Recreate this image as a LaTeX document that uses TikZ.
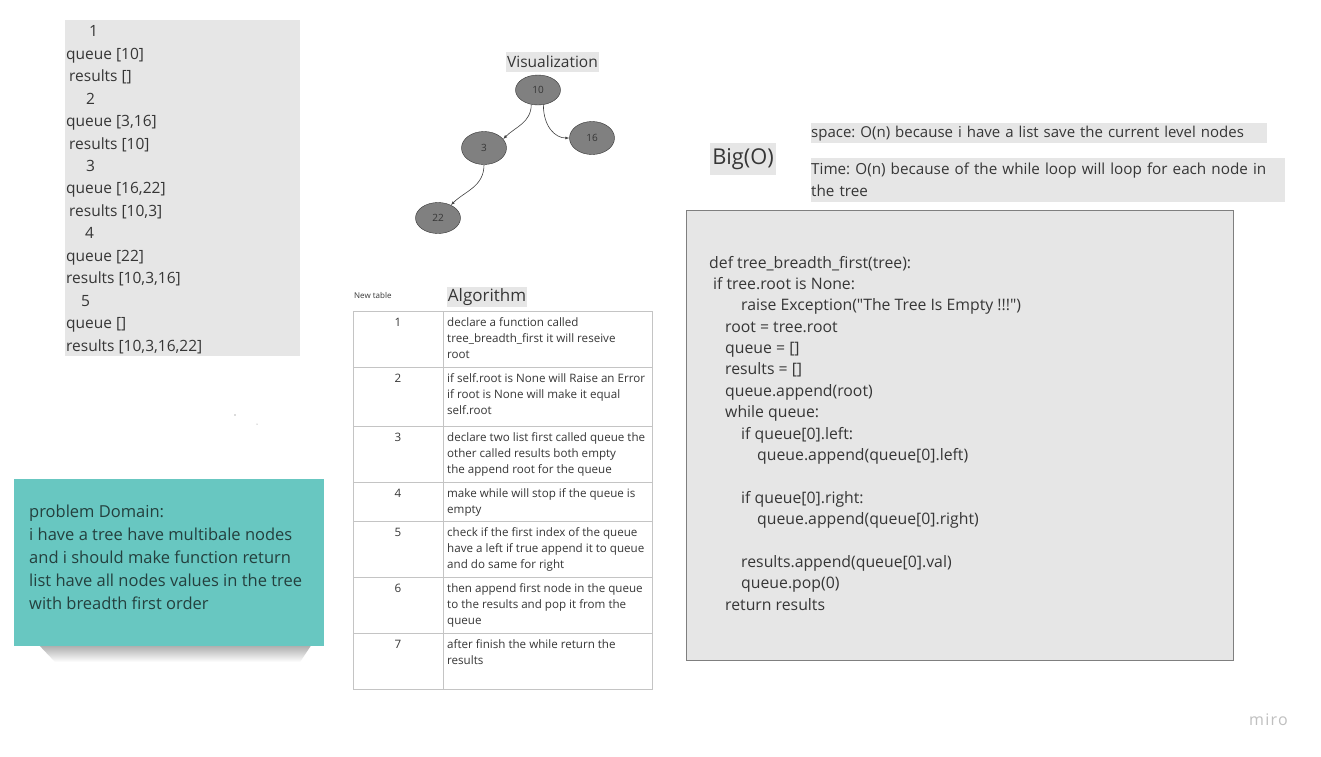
\documentclass[tikz,border=0pt]{standalone}
\usepackage{fontspec}
\setmainfont{Open Sans}
\frenchspacing
\usetikzlibrary{arrows.meta,shapes.geometric}
\definecolor{paper}{HTML}{E6E6E6}
\definecolor{ink}{HTML}{363636}
\definecolor{knotfill}{HTML}{808080}
\definecolor{rule}{HTML}{C4C4C4}
\definecolor{sticky}{HTML}{68C7C1}
\definecolor{frame}{HTML}{7F7F7F}
\definecolor{noteink}{HTML}{24403E}
\newcommand\fs[2]{\fontsize{#1}{#2}\selectfont}

\begin{document}
\begin{tikzpicture}[x=1pt,y=-1pt,text=ink,
 tag/.style={fill=paper,inner sep=0pt,align=center},
 lines/.style={anchor=base west,inner sep=0pt,align=left},
 knot/.style={ellipse,draw=black!80,fill=knotfill,minimum width=45pt,minimum height=31pt,inner sep=0pt,font=\fs{10}{12}},
 edge/.style={-{Latex[length=4pt,width=3pt]},draw=black!75,line width=0.6pt},
 cell/.style={anchor=base west,inner sep=0pt,align=left,font=\fs{11.6}{16}}]
\fill[white] (0,0) rectangle (1321,756);
\useasboundingbox (0,0) rectangle (1321,756);

% trace of the queue (multi-line nodes sit on their last baseline)
\node[tag,minimum width=235pt,minimum height=336pt,anchor=north west] (trace) at (65,20) {};
\node[lines,font=\fs{15.5}{22.43}] (steps) at (66,351) {\hspace*{23pt}1\\queue [10]\\\hspace*{3pt}results []\\
 \hspace*{20pt}2\\queue [3,16]\\\hspace*{3pt}results [10]\\
 \hspace*{20pt}3\\queue [16,22]\\\hspace*{3pt}results [10,3]\\
 \hspace*{19pt}4\\queue [22]\\results [10,3,16]\\
 \hspace*{15pt}5\\queue []\\results [10,3,16,22]};
\fill[black!60] (235,415) circle (0.7);
\fill[black!50] (257,424) circle (0.5);

% tree
\node[tag,font=\fs{15.5}{17},minimum width=93pt,minimum height=20pt] (vis) at (552.5,62) {Visualization};
\node[knot,minimum height=30pt] (n10) at (538,90) {10};
\node[knot,minimum height=33pt] (n16) at (592,138) {16};
\node[knot,minimum height=33pt] (n3) at (484,148) {3};
\node[knot] (n22) at (438,218) {22};
\draw[edge] (n10.245) .. controls +(0,18) and +(12,-12) .. (n3.25);
\draw[edge] (n10.290) .. controls +(0,22) and +(-14,0) .. (n16.west);
\draw[edge] (n3.south) .. controls +(0,22) and +(14,-14) .. (n22.45);

% algorithm table
\node[anchor=base west,inner sep=0pt,font=\fs{8}{10}] (newtab) at (354,298) {New table};
\node[tag,font=\fs{17}{20},minimum width=80pt,minimum height=20pt] (algo) at (487,297) {Algorithm};
\draw[rule,line width=0.9pt] (353,311) rectangle (652,689);
\foreach \y in {367,426,482,521,577,633}
 \draw[rule,line width=0.9pt] (353,\y) -- (652,\y);
\draw[rule,line width=0.9pt] (443,311) -- (443,689);
\foreach \n/\top/\k/\txt in {
 1/311/3/{declare a function called\\tree\_breadth\_first it will reseive\\root},
 2/367/3/{if self.root is None will Raise an Error\\if root is None will make it equal\\self.root},
 3/426/3/{declare two list first called queue the\\other called results both empty\\the append root for the queue},
 4/482/2/{make while will stop if the queue is\\empty},
 5/521/3/{check if the first index of the queue\\have a left if true append it to queue\\and do same for right},
 6/577/3/{then append first node in the queue\\to the results and pop it from the\\queue},
 7/633/2/{after finish the while return the\\results}} {
 \node[cell,anchor=base] (num\n) at (398,\top+15) {\n};
 \node[cell] (step\n) at (447,\top+15+16*\k-16) {\txt};
}

% complexity
\node[tag,font=\fs{21.8}{24},minimum width=66pt,minimum height=32pt] (bigo) at (743,159) {Big(O)};
\node[tag,font=\fs{15}{18},text width=456pt,minimum height=20pt,align=left,anchor=north west] (space) at (811,123) {space: O(n) because i have a list save the current level nodes};
\node[tag,font=\fs{15.25}{22},text width=474pt,minimum height=44pt,align=left,anchor=north west] (time) at (811,158) {Time: O(n) because of the while loop will loop for each node in\\the tree};

% code
\node[draw=frame,line width=1.3pt,fill=paper,minimum width=547pt,minimum height=450pt,anchor=north west,inner sep=0pt] (code) at (686,210) {};
\node[lines,font=\fs{15.8}{21.375}] (src) at (709,610) {def tree\_breadth\_first(tree):\\
 \hspace*{4pt}if tree.root is None:\\
 \hspace*{32pt}raise Exception(\textquotedbl The Tree Is Empty !!!\textquotedbl)\\
 \hspace*{16pt}root = tree.root\\
 \hspace*{16pt}queue = []\\
 \hspace*{16pt}results = []\\
 \hspace*{16pt}queue.append(root)\\
 \hspace*{16pt}while queue:\\
 \hspace*{32pt}if queue[0].left:\\
 \hspace*{48pt}queue.append(queue[0].left)\\
 ~\\
 \hspace*{32pt}if queue[0].right:\\
 \hspace*{48pt}queue.append(queue[0].right)\\
 ~\\
 \hspace*{32pt}results.append(queue[0].val)\\
 \hspace*{32pt}queue.pop(0)\\
 \hspace*{16pt}return results};

% problem domain note
\shade[top color=black!35,bottom color=white] (38,644) -- (312,644) -- (300,662) -- (55,662) -- cycle;
\node[fill=sticky,minimum width=310pt,minimum height=167pt,anchor=north west,inner sep=0pt] (note) at (14,479) {};
\node[lines,font=\fs{16.5}{23},text=noteink] (domain) at (29,609) {problem Domain:\\i have a tree have multibale nodes\\and i should make function return\\list have all nodes values in the tree\\with breadth first order};

\node[anchor=base west,inner sep=0pt,font=\fs{16}{18}\addfontfeature{LetterSpace=8},text=black!25] (miro) at (1249,725) {miro};
\end{tikzpicture}
\end{document}
